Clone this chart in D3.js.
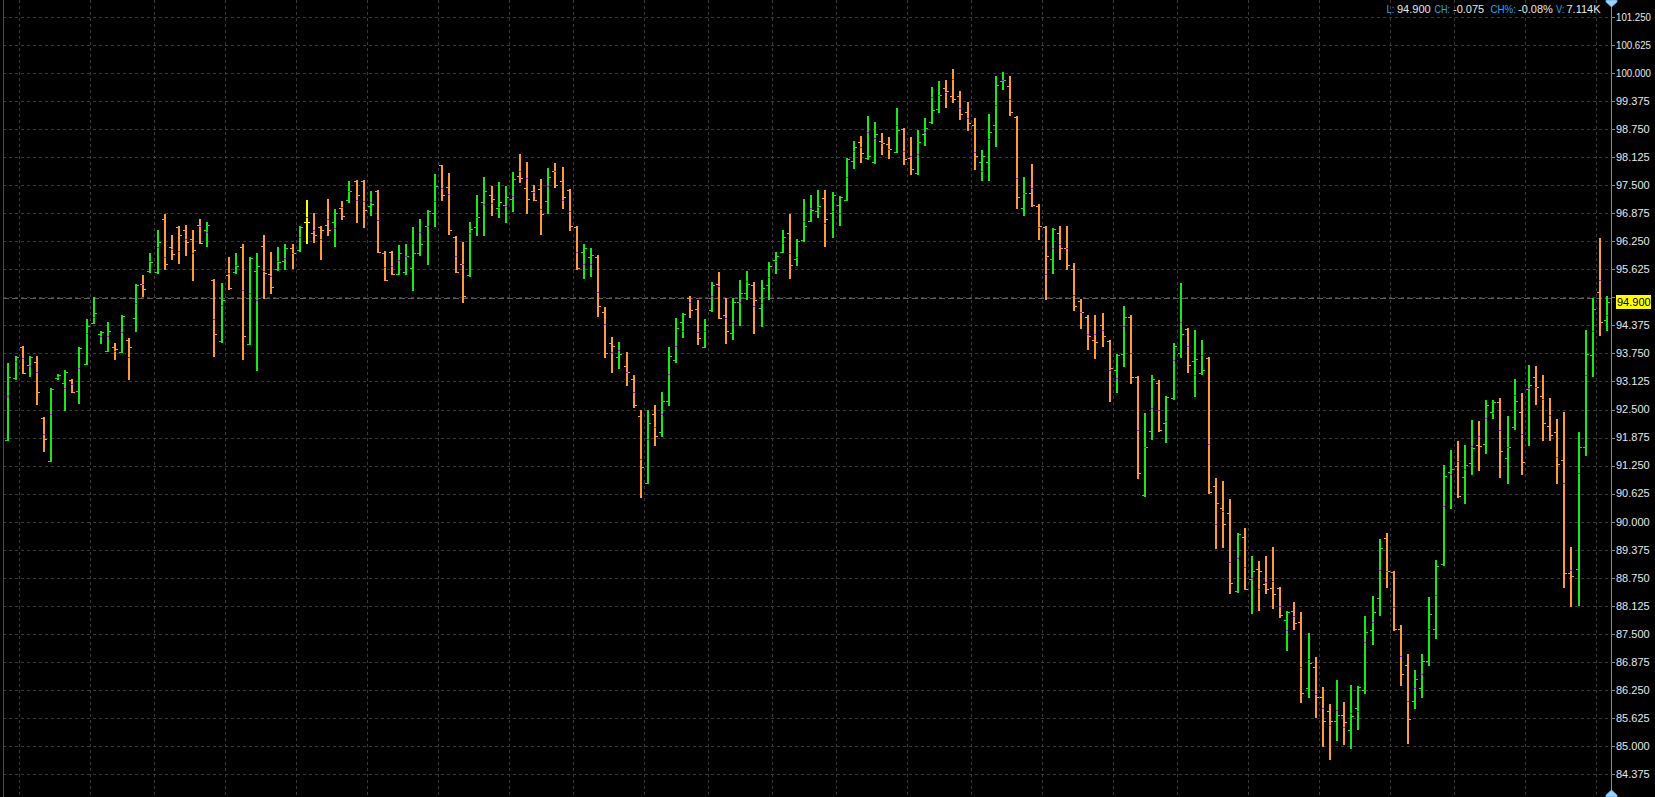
<!DOCTYPE html>
<html><head><meta charset="utf-8">
<script src="https://cdn.jsdelivr.net/npm/d3@7"></script>
<style>html,body{margin:0;padding:0;background:#000;overflow:hidden}</style>
</head><body><svg id="c" width="1655" height="797"></svg>
<script>
const opens = [91.82,93.20,93.89,93.49,93.55,92.32,91.35,93.20,93.08,93.15,92.91,93.51,94.42,94.18,93.80,93.89,93.78,94.06,94.53,95.29,
95.58,95.56,96.74,96.13,96.56,96.49,96.29,96.61,96.49,95.38,94.03,95.49,95.56,96.12,93.95,95.58,96.15,95.53,95.64,95.81,
96.10,96.06,96.68,96.43,96.57,96.61,96.67,96.99,97.18,97.59,97.59,97.03,97.37,95.98,96.01,95.51,95.56,95.65,95.98,96.59,
96.87,97.94,97.45,96.34,95.74,95.49,96.57,97.12,97.27,96.98,97.06,97.19,97.70,97.43,97.36,97.41,97.14,97.81,97.59,97.39,
96.56,96.00,95.89,95.90,94.67,93.98,93.66,93.46,93.17,92.36,90.86,92.40,92.00,92.70,93.60,94.44,94.99,94.74,93.90,94.71,
95.29,94.60,94.20,94.89,95.09,95.28,94.76,95.27,95.83,96.01,96.43,95.85,96.27,96.70,96.92,97.21,96.88,97.05,97.16,98.03,
98.46,98.11,98.01,98.49,98.42,98.25,98.75,98.10,97.77,98.64,98.90,99.19,99.66,99.48,99.48,99.12,98.83,98.01,98.01,98.83,
99.82,99.70,99.01,96.98,97.32,97.04,96.56,95.85,96.43,96.09,95.63,94.91,94.56,94.04,94.38,94.02,93.37,93.73,94.57,93.22,
90.59,92.01,93.09,92.21,92.76,93.77,94.29,93.57,93.31,93.64,90.80,90.30,90.19,88.46,89.65,88.72,88.94,88.60,88.52,88.52,
87.81,88.00,87.76,86.29,86.75,86.09,85.77,85.55,85.69,85.35,85.84,86.24,87.58,88.29,89.63,88.87,87.60,86.80,86.00,86.30,
86.90,87.60,89.05,91.10,91.24,91.00,91.31,91.70,91.73,92.44,92.66,91.43,92.10,92.44,92.96,93.23,92.80,92.13,92.00,91.37,
88.86,88.94,91.66,93.71,95.13,94.49];
const highs = [93.53,93.69,93.92,93.69,93.69,92.33,92.98,93.29,93.38,93.18,93.89,94.52,95.01,94.25,94.45,93.98,94.61,94.09,95.30,95.50,
95.99,96.50,96.86,96.39,96.59,96.61,96.50,96.75,96.68,95.41,95.32,95.90,95.99,96.19,95.90,95.99,96.39,96.01,96.12,96.19,
96.19,96.59,97.17,96.88,96.59,97.19,96.97,97.15,97.59,97.62,97.62,97.37,97.39,96.03,96.03,96.17,96.19,96.57,96.75,96.95,
97.75,97.95,97.77,96.37,96.23,96.68,97.28,97.68,97.48,97.57,97.48,97.79,98.20,98.02,97.50,97.64,97.88,97.99,97.91,97.42,
96.59,96.19,96.10,95.94,94.79,94.12,94.01,93.78,93.27,92.49,92.49,92.60,92.90,93.90,94.54,94.65,95.03,94.94,94.52,95.34,
95.57,94.99,94.99,95.39,95.59,95.34,95.39,95.79,96.01,96.50,96.86,96.30,97.19,97.28,97.39,97.39,97.35,97.26,98.11,98.49,
98.60,99.04,98.91,98.66,98.57,99.22,98.78,98.57,98.73,99.00,99.69,99.82,99.84,100.09,99.60,99.35,99.00,98.28,99.09,99.93,
100.02,99.93,99.04,97.68,97.97,97.08,96.59,96.55,96.59,96.59,95.77,94.96,94.61,94.61,94.65,94.05,93.74,94.81,94.61,93.25,
92.42,93.27,93.16,92.81,93.98,95.32,94.32,94.27,94.05,93.67,90.97,90.91,90.51,89.75,89.86,89.24,89.12,89.24,89.44,88.55,
88.01,88.21,87.99,87.52,86.98,86.32,85.94,86.47,85.98,86.36,86.34,87.90,88.34,89.61,89.75,88.90,87.70,87.05,86.70,87.05,
88.33,89.15,91.26,91.60,91.80,91.71,92.27,92.24,92.71,92.71,92.76,92.36,93.18,92.87,93.49,93.47,93.27,92.76,92.29,92.44,
89.44,92.00,94.27,94.99,96.32,95.02];
const lows = [91.82,93.19,93.31,93.25,92.63,91.58,91.35,93.19,92.50,92.90,92.65,93.51,94.42,93.99,93.80,93.63,93.78,93.19,94.26,95.04,
95.57,95.55,95.64,95.86,95.77,95.95,95.39,96.20,96.15,93.70,94.01,95.19,95.55,93.63,93.95,93.39,94.99,95.10,95.60,95.64,
95.66,96.04,96.20,96.24,95.86,96.40,96.15,96.75,97.13,96.68,96.57,96.84,96.02,95.39,95.51,95.51,95.51,95.17,95.95,95.75,
96.60,97.16,96.42,95.57,94.90,95.48,96.39,96.39,96.84,96.80,96.67,96.93,97.56,96.87,97.16,96.42,96.87,97.47,96.98,96.51,
95.64,95.44,95.48,94.59,93.68,93.34,93.43,93.05,92.56,90.56,90.86,91.70,91.90,92.60,93.55,94.12,94.57,93.95,93.90,94.70,
94.53,93.98,94.08,94.38,94.97,94.21,94.37,94.97,95.55,96.00,95.44,95.71,96.26,96.70,96.80,96.15,96.35,96.62,97.16,97.89,
98.02,98.09,98.00,98.20,98.11,98.23,97.98,97.75,97.76,98.40,98.89,99.12,99.25,99.36,98.98,98.74,97.86,97.62,97.62,98.37,
99.64,99.06,96.99,96.84,97.04,96.30,94.96,95.54,95.86,95.63,94.72,94.32,93.85,93.65,93.92,92.70,92.90,93.48,93.08,90.98,
90.58,91.85,92.03,91.78,92.74,93.66,93.34,92.81,93.30,90.65,89.42,89.44,88.40,88.44,88.51,87.97,88.03,88.42,88.08,87.88,
87.14,87.61,85.98,86.09,85.65,85.01,84.72,85.14,85.05,84.96,85.39,86.19,87.28,87.91,88.55,87.59,86.35,85.07,85.85,86.10,
86.80,87.40,89.04,90.31,90.56,90.42,91.06,91.15,91.54,92.32,91.00,90.87,92.07,91.07,91.70,92.63,91.81,91.81,90.87,88.55,
88.11,88.15,91.49,93.25,94.17,94.28];
const closes = [93.23,93.66,93.31,93.66,92.88,91.84,92.96,93.26,93.34,92.90,93.87,94.36,94.64,94.22,94.25,93.84,94.58,93.89,95.27,95.18,
95.79,96.23,95.74,95.96,96.39,96.23,96.06,96.20,96.62,94.18,94.93,95.20,95.70,94.13,95.87,95.69,95.54,95.23,95.79,96.10,
95.98,96.57,96.68,96.38,96.49,96.50,96.88,96.81,97.38,97.27,96.95,97.08,96.02,95.39,95.51,95.98,95.92,95.98,96.18,96.93,
97.48,97.27,96.49,95.57,95.02,96.52,96.80,97.38,97.19,97.12,97.24,97.63,97.65,97.19,97.16,96.85,97.68,97.50,97.23,96.58,
95.65,96.09,95.94,94.80,93.75,93.91,93.73,93.34,92.59,91.21,92.20,91.90,92.70,93.70,94.31,94.63,94.71,94.10,94.38,95.27,
94.53,94.24,94.89,95.10,95.29,94.93,95.20,95.70,95.92,96.34,95.72,96.26,96.59,96.94,97.03,96.74,97.27,97.24,98.08,98.36,
98.22,98.14,98.64,98.43,98.31,98.73,98.08,97.85,98.46,98.78,99.17,99.51,99.59,99.41,99.08,98.88,98.14,98.14,98.68,99.73,
99.85,99.12,97.23,97.33,97.05,96.58,95.92,96.52,96.09,95.71,94.80,94.67,94.13,94.00,94.13,93.42,93.71,94.57,93.23,91.08,
91.66,93.17,92.04,92.78,93.91,94.18,93.49,93.62,93.37,90.67,90.41,89.94,88.63,89.72,88.51,88.89,88.89,88.49,88.38,87.91,
87.98,87.74,86.18,86.84,86.09,85.55,85.55,85.68,85.53,85.67,86.31,87.53,87.98,89.41,88.89,87.60,86.60,85.60,86.50,86.90,
87.94,89.01,91.01,91.17,90.58,91.26,91.64,91.69,92.60,92.67,91.58,91.66,92.68,91.34,93.04,93.01,92.19,91.94,91.28,88.86,
88.80,91.67,93.73,94.73,94.44,94.89];
const mids = [92.81,93.57,93.64,93.48,93.34,91.95,92.39,93.23,92.97,93.06,93.42,94.20,94.57,94.13,94.13,93.80,94.22,93.66,94.87,95.29,
95.80,96.12,95.89,96.08,96.03,96.29,95.98,96.59,96.46,94.51,94.84,95.54,95.71,95.16,95.09,94.93,95.58,95.47,95.81,95.87,
95.98,96.35,96.78,96.49,96.29,96.75,96.54,97.02,97.38,97.17,97.15,97.13,96.72,95.68,95.70,95.83,95.92,96.20,96.45,96.58,
97.14,97.43,97.30,95.92,95.74,96.43,96.80,97.07,97.10,97.01,97.03,97.25,97.81,97.65,97.35,96.96,97.48,97.81,97.16,96.92,
96.02,95.74,95.74,95.13,94.41,93.78,93.83,93.34,92.90,91.39,91.84,92.10,92.40,93.30,93.92,94.26,94.89,94.22,94.26,95.02,
95.25,94.54,94.46,94.89,95.36,94.80,94.87,95.45,95.82,96.22,95.98,95.91,96.70,96.98,97.01,96.65,96.93,96.89,97.69,98.26,
98.35,98.69,98.55,98.45,98.31,98.83,98.26,98.15,98.19,98.69,99.46,99.51,99.57,99.86,99.23,98.99,98.25,97.82,98.52,99.28,
99.85,99.41,97.65,97.33,97.44,96.56,95.51,96.09,96.18,96.09,95.05,94.67,94.18,94.18,94.27,93.37,93.21,94.35,93.75,92.04,
91.66,92.53,92.50,92.24,93.60,94.44,93.91,93.27,93.71,91.73,89.94,90.24,89.09,89.18,88.98,88.75,88.49,88.66,88.67,88.13,
87.59,87.89,86.75,86.93,86.15,85.84,85.46,85.80,85.42,85.73,85.77,87.31,87.76,88.92,88.89,88.09,87.00,86.00,86.30,86.60,
87.60,88.37,90.35,91.06,91.35,91.17,91.68,91.90,92.32,92.43,92.04,91.66,92.83,91.96,92.97,93.00,92.74,92.37,91.44,90.87,
88.92,91.09,93.28,94.26,95.38,94.61];
const yTickValues = [84.375,85,85.625,86.25,86.875,87.5,88.125,88.75,89.375,90,90.625,91.25,91.875,92.5,93.125,93.75,94.375,95,95.625,96.25,96.875,97.5,98.125,98.75,99.375,100,100.625,101.25];
const periodEndBars = [1,11,20,30,40,50,60,70,79,89,98,107,116,126,135,145,155,164,174,184,194,203,213,223];
const lastPrice = 94.900;
const prevClose = 94.975;
const headerItems = [["L:","94.900"],["CH:","-0.075"],["CH%:","-0.08%"],["V:","7.114K"]];

const W = 1655, H = 797;
const plotLeft = 3, axisX = 1611;
const FONT = "'Liberation Sans', Arial, sans-serif";
const svg = d3.select("#c");
svg.append("rect").attr("width",W).attr("height",H).attr("fill","#000");

const x = d3.scaleLinear().domain([0, opens.length-1]).range([8.4, 1607]);
const y = d3.scaleLinear().domain([85, 100]).range([746, 73]);

const grid = svg.append("g");
grid.selectAll("line.h").data(yTickValues).join("line")
  .attr("x1", plotLeft).attr("x2", axisX)
  .attr("y1", d => Math.round(y(d))+0.5).attr("y2", d => Math.round(y(d))+0.5)
  .attr("stroke", "#3a3a3a").attr("stroke-dasharray","3,3");
grid.selectAll("line.v").data(periodEndBars).join("line")
  .attr("x1", d => Math.round(x(d+0.5))+0.5).attr("x2", d => Math.round(x(d+0.5))+0.5)
  .attr("y1", 0).attr("y2", H)
  .attr("stroke", "#3a3a3a").attr("stroke-dasharray","3,3");

svg.append("line").attr("x1",plotLeft+0.5).attr("x2",plotLeft+0.5).attr("y1",0).attr("y2",H).attr("stroke","#4a4a4a");

svg.append("line").attr("x1",plotLeft).attr("x2",axisX)
  .attr("y1",Math.round(y(prevClose))+0.5).attr("y2",Math.round(y(prevClose))+0.5)
  .attr("stroke","#5e5e5e").attr("stroke-dasharray","6,3");

const bars = d3.range(opens.length).map(i => ({i, o:opens[i], h:highs[i], l:lows[i], c:closes[i], m:mids[i]}));
const col = d => d.c > d.o ? "#18e818" : (d.c < d.o ? "#ff9a3c" : "#ffff00");
const g = svg.append("g").attr("shape-rendering","crispEdges");
const bg = g.selectAll("g.bar").data(bars).join("g");
bg.append("rect")
  .attr("x", d => Math.round(x(d.i))-1).attr("width",2)
  .attr("y", d => Math.round(y(d.h)))
  .attr("height", d => Math.max(1, Math.round(y(d.l)) - Math.round(y(d.h)) + 1))
  .attr("fill", col);
bg.append("rect")
  .attr("x", d => Math.round(x(d.i))-3).attr("width",2)
  .attr("y", d => Math.round(y(d.o))).attr("height",1).attr("fill", col);
bg.append("rect")
  .attr("x", d => Math.round(x(d.i))+1).attr("width",2)
  .attr("y", d => Math.round(y(d.c))).attr("height",1).attr("fill", col);
bg.append("rect")
  .attr("x", d => Math.round(x(d.i))-1).attr("width",2)
  .attr("y", d => Math.round(y(d.m))).attr("height",1).attr("fill", "#a514d2");

// right axis
svg.append("line").attr("x1",axisX+0.5).attr("x2",axisX+0.5).attr("y1",0).attr("y2",H).attr("stroke","#8a8a8a");
const ly = y(lastPrice);
const shownTicks = yTickValues.filter(v => Math.abs(y(v) - ly) > 11);
const ax = svg.append("g").attr("font-family",FONT).attr("font-size","11px");
ax.selectAll("line").data(yTickValues).join("line")
  .attr("x1",axisX+1).attr("x2",axisX+4)
  .attr("y1", d => Math.round(y(d))+0.5).attr("y2", d => Math.round(y(d))+0.5)
  .attr("stroke","#8a8a8a");
ax.selectAll("text").data(shownTicks).join("text")
  .attr("x", axisX+5).attr("y", d => y(d)).attr("dy","0.35em")
  .attr("fill","#e8e8e8").text(d => d3.format(".3f")(d))
  .each(function(d){ if (d >= 100) d3.select(this).attr("textLength",35).attr("lengthAdjust","spacingAndGlyphs"); });

// last price label
svg.append("rect").attr("x",axisX+5).attr("y",Math.round(ly)-7).attr("width",35).attr("height",14).attr("fill","#ffff00");
svg.append("text").attr("x",axisX+6).attr("y",ly).attr("dy","0.35em")
  .attr("font-family",FONT).attr("font-size","11px")
  .attr("fill","#000").text(d3.format(".3f")(lastPrice));

// header status line
const headerPos = [[1386.5,1397],[1434.5,1453],[1490.5,1518],[1556,1566.5]];
const labelLen = [8, 15.5, 25.5, 8.5];
const hg = svg.append("g").attr("font-family",FONT).attr("font-size","11px");
headerItems.forEach((p,k) => {
  hg.append("text").attr("x",headerPos[k][0]).attr("y",13).attr("fill","#22a8ee")
    .attr("textLength",labelLen[k]).attr("lengthAdjust","spacingAndGlyphs").text(p[0]);
  hg.append("text").attr("x",headerPos[k][1]).attr("y",13).attr("fill","#e8e8e8").text(p[1]);
});

// axis end markers
const mk = (pts) => svg.append("path").attr("d", d3.line()(pts)+"Z").attr("fill","#9fd2f5").attr("stroke","#5aa6e0").attr("stroke-width",0.8);
mk([[axisX-5,0],[axisX+6,0],[axisX+6,2],[axisX+0.5,7],[axisX-5,2]]);
mk([[axisX-5,H],[axisX+6,H],[axisX+6,H-2],[axisX+0.5,H-7],[axisX-5,H-2]]);
</script></body></html>
